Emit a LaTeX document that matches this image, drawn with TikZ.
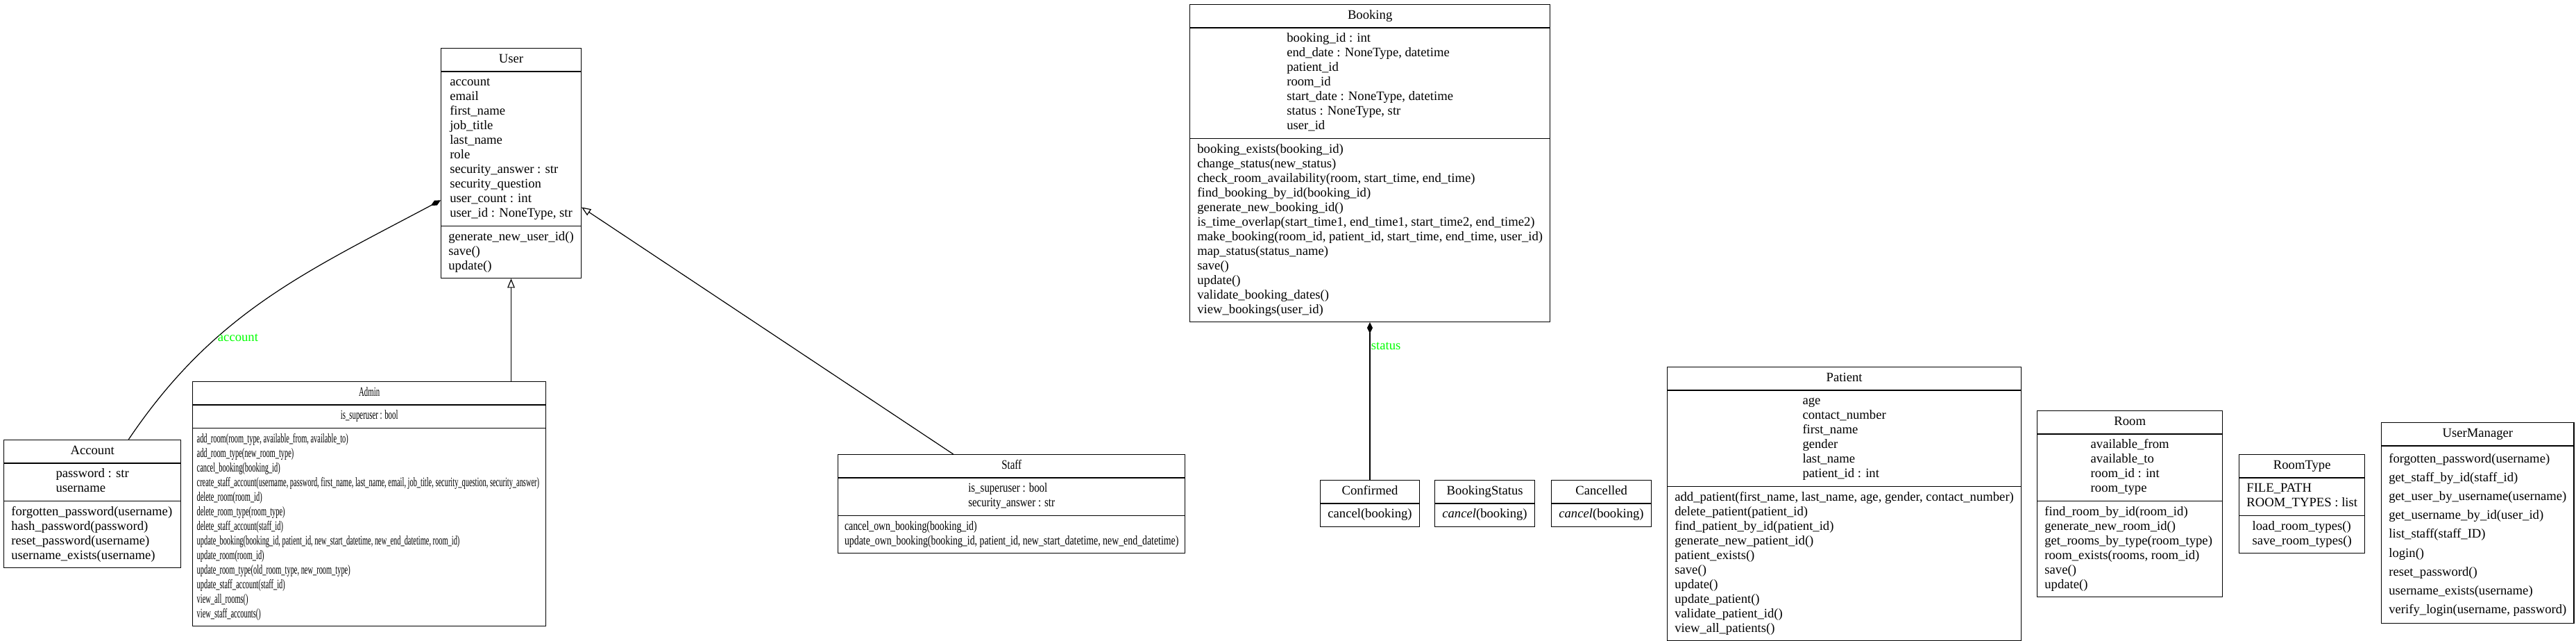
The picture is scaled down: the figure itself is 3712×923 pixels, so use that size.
\documentclass[tikz,border=0pt]{standalone}
\usepackage{fontspec}
\setmainfont{Liberation Serif}
\usepackage{graphicx}
\usetikzlibrary{positioning,shapes.multipart,arrows.meta}

\definecolor{rolegreen}{RGB}{0,255,0}
\newcommand{\classfont}{\fontsize{14}{15.75}\selectfont}
\newcommand{\rows}[1]{\begin{tabular}{@{}l@{}}#1\end{tabular}}

\tikzset{
  umlclass/.style={draw, line width=1pt, anchor=north west, font=\classfont,
    rectangle split, rectangle split parts=3, inner xsep=8pt, inner ysep=4.1pt,
    rectangle split part align={center,center,left}},
  umlplain/.style={umlclass, rectangle split parts=2,
    rectangle split part align={center,left}},
  composes/.style={line width=0.9pt, -{Diamond[length=12pt,width=6pt]}},
  inherits/.style={line width=0.9pt, -{Triangle[open,length=10pt,width=8pt,fill=white]}},
  rolelabel/.style={text=rolegreen, font=\classfont, anchor=west, inner sep=1pt}
}

\begin{document}
\begin{tikzpicture}[x=0.75pt,y=-0.75pt]
  \useasboundingbox (0,0) rectangle (3712,923);

  % classes, top left corners taken from the diagram
  \node[umlclass, minimum width=150pt] (User) at (635,69)
    {\rows{User}
     \nodepart{two}\rows{account\\email\\first\_name\\job\_title\\last\_name\\role\\security\_answer : str\\security\_question\\user\_count : int\\user\_id : NoneType, str}
     \nodepart{three}\rows{generate\_new\_user\_id()\\save()\\update()}};
  \node[umlclass, minimum width=191.25pt] (Account) at (5,633)
    {\rows{Account}
     \nodepart{two}\rows{password : str\\username}
     \nodepart{three}\rows{forgotten\_password(username)\\hash\_password(password)\\reset\_password(username)\\username\_exists(username)}};
  \node[umlclass, minimum width=381.75pt, inner xsep=4.5pt] (Admin) at (277,549)
    {\scalebox{0.58}[1]{\rows{Admin}}
     \nodepart{two}\scalebox{0.58}[1]{\rows{is\_superuser : bool}}
     \nodepart{three}\resizebox*{370pt}{\totalheight}{\rows{add\_room(room\_type, available\_from, available\_to)\\add\_room\_type(new\_room\_type)\\cancel\_booking(booking\_id)\\create\_staff\_account(username, password, first\_name, last\_name, email, job\_title, security\_question, security\_answer)\\delete\_room(room\_id)\\delete\_room\_type(room\_type)\\delete\_staff\_account(staff\_id)\\update\_booking(booking\_id, patient\_id, new\_start\_datetime, new\_end\_datetime, room\_id)\\update\_room(room\_id)\\update\_room\_type(old\_room\_type, new\_room\_type)\\update\_staff\_account(staff\_id)\\view\_all\_rooms()\\view\_staff\_accounts()}}};
  \node[umlclass, minimum width=375pt, inner xsep=7pt] (Staff) at (1207,654)
    {\scalebox{0.8}[1]{\rows{Staff}}
     \nodepart{two}\scalebox{0.8}[1]{\rows{is\_superuser : bool\\security\_answer : str}}
     \nodepart{three}\resizebox*{361pt}{\totalheight}{\rows{cancel\_own\_booking(booking\_id)\\update\_own\_booking(booking\_id, patient\_id, new\_start\_datetime, new\_end\_datetime)}}};
  \node[umlclass, minimum width=381.75pt] (Booking) at (1714,6)
    {\rows{Booking}
     \nodepart{two}\rows{booking\_id : int\\end\_date : NoneType, datetime\\patient\_id\\room\_id\\start\_date : NoneType, datetime\\status : NoneType, str\\user\_id}
     \nodepart{three}\rows{booking\_exists(booking\_id)\\change\_status(new\_status)\\check\_room\_availability(room, start\_time, end\_time)\\find\_booking\_by\_id(booking\_id)\\generate\_new\_booking\_id()\\is\_time\_overlap(start\_time1, end\_time1, start\_time2, end\_time2)\\make\_booking(room\_id, patient\_id, start\_time, end\_time, user\_id)\\map\_status(status\_name)\\save()\\update()\\validate\_booking\_dates()\\view\_bookings(user\_id)}};
  \node[umlplain, minimum width=105.75pt] (Confirmed) at (1902,691)
    {\rows{Confirmed}\nodepart{two}\rows{cancel(booking)}};
  \node[umlplain, minimum width=108pt] (BookingStatus) at (2067,691)
    {\rows{BookingStatus}\nodepart{two}\rows{\textit{cancel}(booking)}};
  \node[umlplain, minimum width=108pt] (Cancelled) at (2235,691)
    {\rows{Cancelled}\nodepart{two}\rows{\textit{cancel}(booking)}};
  \node[umlclass, minimum width=369pt] (Patient) at (2402,528)
    {\rows{Patient}
     \nodepart{two}\rows{age\\contact\_number\\first\_name\\gender\\last\_name\\patient\_id : int}
     \nodepart{three}\rows{add\_patient(first\_name, last\_name, age, gender, contact\_number)\\delete\_patient(patient\_id)\\find\_patient\_by\_id(patient\_id)\\generate\_new\_patient\_id()\\patient\_exists()\\save()\\update()\\update\_patient()\\validate\_patient\_id()\\view\_all\_patients()}};
  \node[umlclass, minimum width=200.25pt] (Room) at (2935,591)
    {\rows{Room}
     \nodepart{two}\rows{available\_from\\available\_to\\room\_id : int\\room\_type}
     \nodepart{three}\rows{find\_room\_by\_id(room\_id)\\generate\_new\_room\_id()\\get\_rooms\_by\_type(room\_type)\\room\_exists(rooms, room\_id)\\save()\\update()}};
  \node[umlclass, minimum width=135.75pt, rectangle split part align={center,center,center}] (RoomType) at (3226,654)
    {\rows{RoomType}
     \nodepart{two}\rows{FILE\_PATH\\ROOM\_TYPES : list}
     \nodepart{three}\rows{load\_room\_types()\\save\_room\_types()}};
  \node[umlplain, minimum width=206.25pt] (UserManager) at (3431,608)
    {\rows{UserManager}
     \nodepart{two}{\renewcommand{\arraystretch}{1.286}\rows{forgotten\_password(username)\\get\_staff\_by\_id(staff\_id)\\get\_user\_by\_username(username)\\get\_username\_by\_id(user\_id)\\list\_staff(staff\_ID)\\login()\\reset\_password()\\username\_exists(username)\\verify\_login(username, password)}}};

  % relations
  \draw[composes] ([xshift=39pt]Account.north) to[out=56,in=208]
    node[rolelabel, pos=0.33] {account} ([yshift=-40pt]User.west);
  \draw[inherits] (Admin.north -| User.south) -- (User.south);
  \draw[inherits] ([xshift=-63pt]Staff.north) -- ([yshift=-47.5pt]User.east);
  \draw[composes] (Confirmed.north) -- (Confirmed.north |- Booking.south)
    node[rolelabel, pos=0.85] {status};
\end{tikzpicture}
\end{document}
